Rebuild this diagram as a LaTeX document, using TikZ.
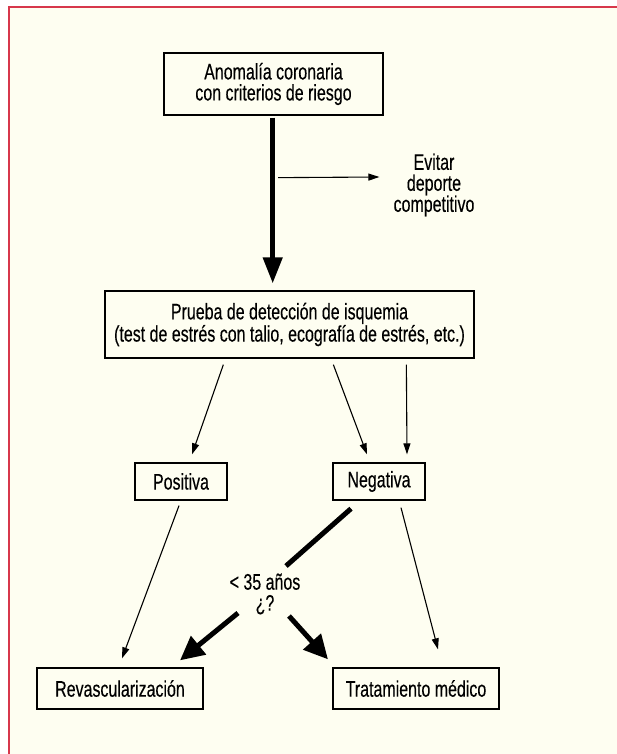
\documentclass[tikz,border=0pt]{standalone}
\usepackage{fontspec}
\setmainfont[FakeStretch=0.71,FakeBold=0.3]{Liberation Sans}
\usetikzlibrary{arrows.meta,calc}
\definecolor{cream}{RGB}{254,254,241}
\definecolor{frame}{RGB}{215,55,75}
\tikzset{
  box/.style={draw=black,line width=1.3pt,fill=cream,inner sep=0pt,align=center,
    font=\fontsize{22.5pt}{21pt}\selectfont},
  lbl/.style={inner sep=0pt,align=center,font=\fontsize{22.5pt}{21pt}\selectfont},
  thin/.style={line width=1.1pt,-{Triangle[length=11pt,width=7pt]}},
  bigarrow/.style={line width=4.5pt,-{Triangle[length=26pt,width=19pt]}},
  fatarrow/.style={line width=5pt,-{Triangle[length=24pt,width=23pt]}},
  fatline/.style={line width=5pt}
}
\begin{document}
\begin{tikzpicture}[x=1pt,y=-1pt]
\useasboundingbox (0,0) rectangle (617,754);
\fill[cream] (8,6) rectangle (617,754);
\draw[frame,line width=1.6pt] (8.8,754) -- (8.8,6.8) -- (617,6.8);

\node[box,minimum width=219pt,minimum height=62pt] (top) at (273.5,84)
  {Anomalía coronaria\\con criterios de riesgo};
\node[box,minimum width=369pt,minimum height=67pt] (mid) at (289.5,324.5)
  {Prueba de detección de isquemia\\(test de estrés con talio, ecografía de estrés, etc.)};
\node[box,minimum width=92pt,minimum height=37pt] (pos) at (181,481.5) {Positiva};
\node[box,minimum width=92pt,minimum height=37pt] (neg) at (379,481.5) {Negativa};
\node[box,minimum width=166pt,minimum height=41pt] (rev) at (120,688.5) {Revascularización};
\node[box,minimum width=166pt,minimum height=41pt] (tra) at (416,688.5) {Tratamiento médico};
\node[lbl] (evi) at (434,185) {Evitar\\deporte\\competitivo};
\node[lbl] (age) at (265,594) {< 35 años\\¿?};

\draw[bigarrow] ($(top.south)+(-0.8,2)$) -- ($(mid.north)+(-16.8,-7)$);
\draw[thin] ($(top.south)+(4.5,62)$) -- ($(evi.west)+(-14,-8)$);

\draw[thin] ($(mid.south west)+(119,6)$) -- ($(pos.north)+(11,-8)$);
\draw[thin] ($(mid.south west)+(229,6)$) -- ($(neg.north)+(-12,-8)$);
\draw[thin] ($(mid.south west)+(302,6)$) -- ($(neg.north)+(28,-8)$);

\draw[thin] ($(pos.south)+(-2,5)$) -- ($(rev.north)+(2,-9)$);
\draw[thin] ($(neg.south)+(22,7)$) -- ($(tra.north)+(22,-18)$);

\draw[fatline] ($(neg.south)+(-28,8)$) -- ($(age.center)+(21,-28)$);
\draw[fatarrow] ($(age.center)+(-27,19)$) -- ($(rev.north)+(60,-7)$);
\draw[fatarrow] ($(age.center)+(24,22)$) -- ($(tra.north)+(-88,-8)$);
\end{tikzpicture}
\end{document}
